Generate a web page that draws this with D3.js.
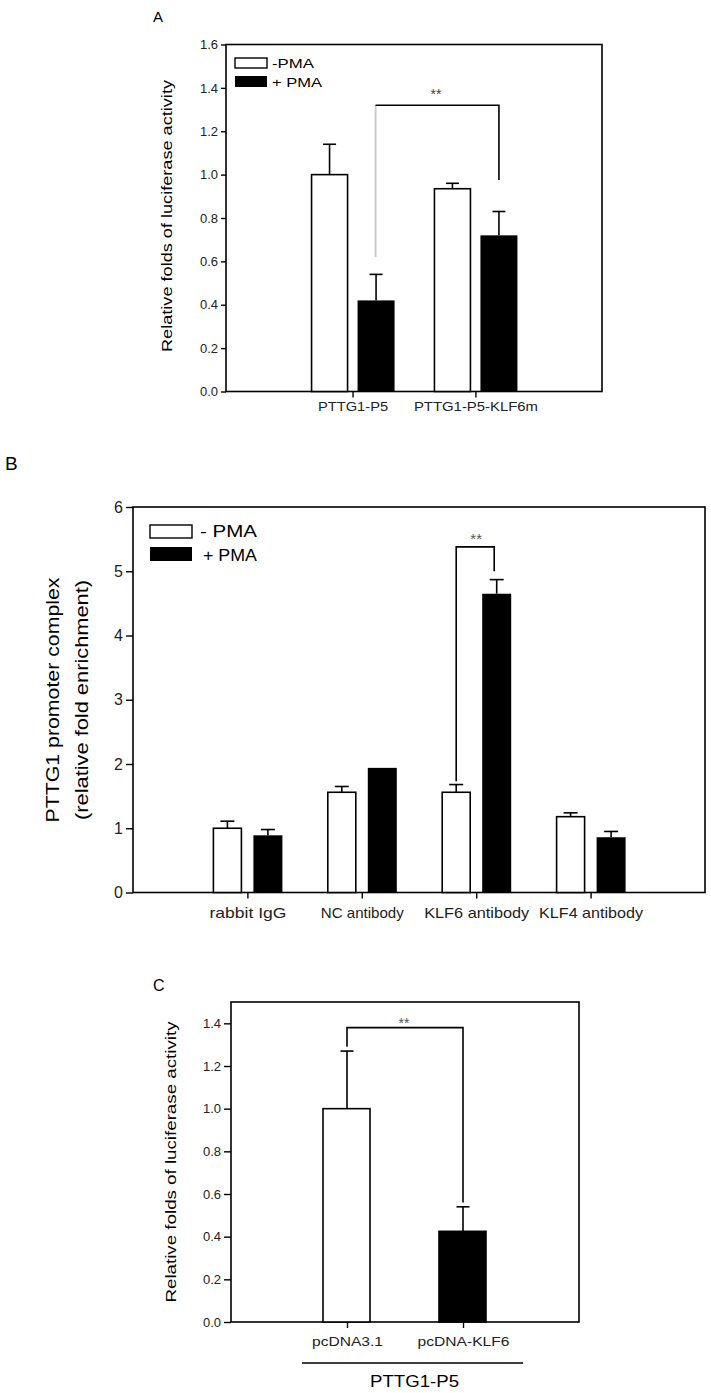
<!DOCTYPE html>
<html>
<head>
<meta charset="utf-8">
<script src="https://cdn.jsdelivr.net/npm/d3@7"></script>
<style>
  body { margin: 0; background: #fff; }
  svg { display: block; font-family: "Liberation Sans", Arial, sans-serif; }
  .frame { fill: none; stroke: #000; stroke-width: 1.6; }
  .axis path, .axis line { stroke: #000; stroke-width: 1.4; }
  .axis text { fill: #222; }
</style>
</head>
<body>
<div id="chart"></div>
<script>
// panel A
const groupsA = ['PTTG1-P5', 'PTTG1-P5-KLF6m']
const aMinus = [1.0, 0.935]
const aMinusErr = [0.14, 0.025]
const aPlus = [0.42, 0.72]
const aPlusErr = [0.12, 0.11]
const ticksA = [0, 0.2, 0.4, 0.6, 0.8, 1.0, 1.2, 1.4, 1.6]

// panel B
const groupsB = ['rabbit  IgG', 'NC antibody', 'KLF6 antibody', 'KLF4 antibody']
const bMinus = [1.0, 1.56, 1.56, 1.18]
const bMinusErr = [0.11, 0.09, 0.12, 0.06]
const bPlus = [0.89, 1.94, 4.65, 0.86]
const bPlusErr = [0.09, 0, 0.22, 0.09]
const ticksB = [0, 1, 2, 3, 4, 5, 6]

// panel C
const groupsC = ['pcDNA3.1', 'pcDNA-KLF6']
const cValues = [1.0, 0.425]
const cErr = [0.27, 0.115]
const ticksC = [0, 0.2, 0.4, 0.6, 0.8, 1.0, 1.2, 1.4]

const svg = d3.select('#chart').append('svg')
  .attr('width', 711)
  .attr('height', 1393)

// the original lettering is wider than Arial, so stretch to measured lengths
function fit(sel, len) {
  return sel.attr('textLength', len).attr('lengthAdjust', 'spacingAndGlyphs')
}

function errBar(g, cx, y, v, e, cap) {
  if (!e) return
  g.append('line').attr('x1', cx).attr('x2', cx)
    .attr('y1', y(v)).attr('y2', y(v + e))
    .attr('stroke', '#000').attr('stroke-width', 1.6)
  g.append('line').attr('x1', cx - cap / 2).attr('x2', cx + cap / 2)
    .attr('y1', y(v + e)).attr('y2', y(v + e))
    .attr('stroke', '#000').attr('stroke-width', 1.6)
}

function frameAndAxes(p) {
  const g = svg.append('g')
  g.append('rect').attr('class', 'frame')
    .attr('x', p.x0).attr('y', p.y(p.ymax))
    .attr('width', p.x1 - p.x0).attr('height', p.y(0) - p.y(p.ymax))
  g.append('g').attr('class', 'axis')
    .attr('transform', `translate(${p.x0},0)`)
    .call(d3.axisLeft(p.y).tickValues(p.ticks).tickFormat(p.fmt).tickSize(p.tickLen).tickPadding(3))
    .call(a => a.select('.domain').remove())
    .selectAll('text').style('font-size', p.tickFont + 'px')
  g.append('g').attr('class', 'axis')
    .attr('transform', `translate(0,${p.y(0)})`)
    .call(d3.axisBottom(p.x).tickSize(6).tickPadding(p.labPad))
    .call(a => a.select('.domain').remove())
    .selectAll('text').style('font-size', p.labFont + 'px')
    .each(function(d, i) { fit(d3.select(this), p.labLen[i]) })
  return g
}

// ---------- A ----------
const xA = d3.scalePoint().domain(groupsA).range([226, 602]).padding(1.03)
const yA = d3.scaleLinear().domain([0, 1.6]).range([391.5, 44.5])
const gA = frameAndAxes({x0: 226, x1: 602, x: xA, y: yA, ymax: 1.6, ticks: ticksA,
  fmt: d3.format('.1f'), tickFont: 13, tickLen: 5, labFont: 12.5, labPad: 5, labLen: [70, 124]})
svg.append('text').attr('x', 153).attr('y', 22).style('font-size', '15px').text('A')
fit(svg.append('text')
  .attr('transform', `translate(172,216) rotate(-90)`)
  .attr('text-anchor', 'middle').style('font-size', '14px')
  .text('Relative folds of luciferase activity'), 272)

groupsA.forEach((k, i) => {
  const cx = xA(k)
  gA.append('rect').attr('x', cx - 41).attr('width', 36)
    .attr('y', yA(aMinus[i])).attr('height', yA(0) - yA(aMinus[i]))
    .attr('fill', '#fff').attr('stroke', '#000').attr('stroke-width', 1.6)
  gA.append('rect').attr('x', cx + 5).attr('width', 37)
    .attr('y', yA(aPlus[i])).attr('height', yA(0) - yA(aPlus[i]))
    .attr('fill', '#000')
  errBar(gA, cx - 23, yA, aMinus[i], aMinusErr[i], 13)
  errBar(gA, cx + 23.5, yA, aPlus[i], aPlusErr[i], 13)
})
// legend A
gA.append('rect').attr('x', 235).attr('y', 58).attr('width', 32).attr('height', 10)
  .attr('fill', '#fff').attr('stroke', '#000').attr('stroke-width', 1.4)
gA.append('rect').attr('x', 235).attr('y', 76).attr('width', 32).attr('height', 11).attr('fill', '#000')
fit(gA.append('text').attr('x', 272).attr('y', 68).style('font-size', '12.5px').text('-PMA'), 42)
fit(gA.append('text').attr('x', 272).attr('y', 87).style('font-size', '12.5px').text('+ PMA'), 50)
// significance A
gA.append('line').attr('x1', xA(groupsA[0]) + 23).attr('x2', xA(groupsA[0]) + 23)
  .attr('y1', yA(0.62)).attr('y2', yA(1.32)).attr('stroke', '#c8c8c8').attr('stroke-width', 1.8)
gA.append('path')
  .attr('d', `M${xA(groupsA[0]) + 23},${yA(1.32)}H${xA(groupsA[1]) + 23.5}V${yA(0.975)}`)
  .attr('fill', 'none').attr('stroke', '#000').attr('stroke-width', 1.6)
gA.append('text').attr('x', 436).attr('y', 99).attr('text-anchor', 'middle')
  .style('font-size', '14px').attr('fill', '#444').text('**')

// ---------- B ----------
const xB = d3.scalePoint().domain(groupsB).range([133, 705]).padding(1)
const yB = d3.scaleLinear().domain([0, 6]).range([892.5, 507])
const gB = frameAndAxes({x0: 133, x1: 705, x: xB, y: yB, ymax: 6, ticks: ticksB,
  fmt: d3.format('d'), tickFont: 16, tickLen: 7, labFont: 14.5, labPad: 9, labLen: [77, 83, 105, 104]})
svg.append('text').attr('x', 5).attr('y', 470).style('font-size', '19px').text('B')
const yl = svg.append('text')
  .attr('transform', `translate(0,700) rotate(-90)`)
  .attr('text-anchor', 'middle').style('font-size', '17.5px')
fit(yl.append('tspan').attr('x', 0).attr('y', 59).text('PTTG1 promoter complex'), 245)
fit(yl.append('tspan').attr('x', 0).attr('y', 88).text('(relative fold enrichment)'), 240)

groupsB.forEach((k, i) => {
  const cx = xB(k)
  gB.append('rect').attr('x', cx - 34).attr('width', 28)
    .attr('y', yB(bMinus[i])).attr('height', yB(0) - yB(bMinus[i]))
    .attr('fill', '#fff').attr('stroke', '#000').attr('stroke-width', 1.6)
  gB.append('rect').attr('x', cx + 6).attr('width', 29)
    .attr('y', yB(bPlus[i])).attr('height', yB(0) - yB(bPlus[i]))
    .attr('fill', '#000')
  errBar(gB, cx - 20, yB, bMinus[i], bMinusErr[i], 14)
  errBar(gB, cx + 20.5, yB, bPlus[i], bPlusErr[i], 14)
})
// legend B
gB.append('rect').attr('x', 150).attr('y', 525).attr('width', 42).attr('height', 13)
  .attr('fill', '#fff').attr('stroke', '#000').attr('stroke-width', 1.4)
gB.append('rect').attr('x', 150).attr('y', 547).attr('width', 42).attr('height', 14).attr('fill', '#000')
fit(gB.append('text').attr('x', 200).attr('y', 537).style('font-size', '16px').text('-  PMA'), 57)
fit(gB.append('text').attr('x', 203).attr('y', 561).style('font-size', '16px').text('+ PMA'), 54)
// significance B
const kB = xB(groupsB[2])
gB.append('path')
  .attr('d', `M${kB - 20},${yB(1.73)}V${yB(5.38)}H${kB + 18}V${yB(5.0)}`)
  .attr('fill', 'none').attr('stroke', '#000').attr('stroke-width', 1.6)
gB.append('text').attr('x', kB).attr('y', 544).attr('text-anchor', 'middle')
  .style('font-size', '15px').attr('fill', '#555').text('**')

// ---------- C ----------
const xC = d3.scalePoint().domain(groupsC).range([231, 579]).padding(1)
const yC = d3.scaleLinear().domain([0, 1.5]).range([1322, 1002])
const gC = frameAndAxes({x0: 231, x1: 579, x: xC, y: yC, ymax: 1.5, ticks: ticksC,
  fmt: d3.format('.1f'), tickFont: 13, tickLen: 7, labFont: 13, labPad: 9, labLen: [71, 92]})
svg.append('text').attr('x', 153).attr('y', 991).style('font-size', '16px').text('C')
fit(svg.append('text')
  .attr('transform', `translate(176,1162) rotate(-90)`)
  .attr('text-anchor', 'middle').style('font-size', '14px')
  .text('Relative folds of luciferase activity'), 281)

groupsC.forEach((k, i) => {
  const cx = xC(k)
  gC.append('rect').attr('x', cx - 24).attr('width', 47)
    .attr('y', yC(cValues[i])).attr('height', yC(0) - yC(cValues[i]))
    .attr('fill', i === 0 ? '#fff' : '#000').attr('stroke', '#000').attr('stroke-width', 1.6)
  errBar(gC, cx, yC, cValues[i], cErr[i], 13)
})
// significance C
gC.append('path')
  .attr('d', `M${xC(groupsC[0])},${yC(1.29)}V${yC(1.38)}H${xC(groupsC[1])}V${yC(0.56)}`)
  .attr('fill', 'none').attr('stroke', '#000').attr('stroke-width', 1.6)
gC.append('text').attr('x', 404).attr('y', 1028).attr('text-anchor', 'middle')
  .style('font-size', '14px').attr('fill', '#555').text('**')
// group line under C labels
gC.append('line').attr('x1', 302).attr('x2', 523).attr('y1', 1363).attr('y2', 1363)
  .attr('stroke', '#000').attr('stroke-width', 1.6)
fit(gC.append('text').attr('x', 370).attr('y', 1387)
  .style('font-size', '17px').text('PTTG1-P5'), 89)
</script>
</body>
</html>
